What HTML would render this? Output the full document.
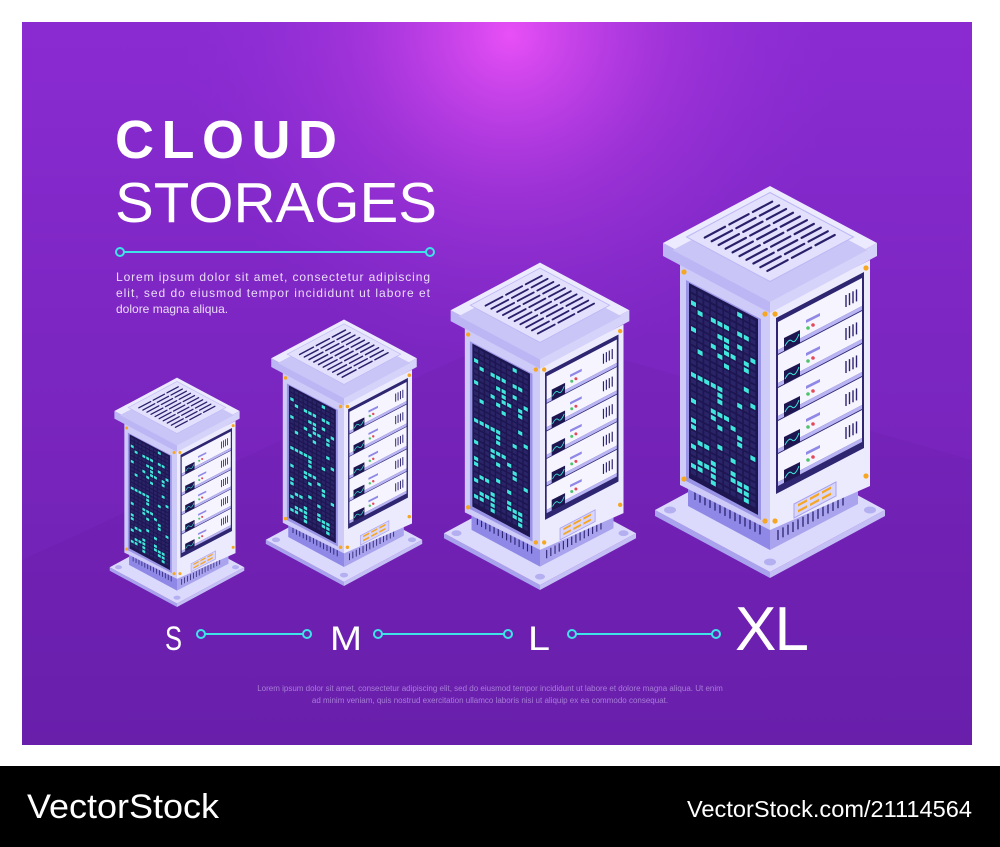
<!DOCTYPE html>
<html><head><meta charset="utf-8"><style>
html,body{margin:0;padding:0;background:#fff;width:1000px;height:847px;overflow:hidden}
svg{display:block}
</style></head><body>
<svg id="s" width="1000" height="847" viewBox="0 0 1000 847" xmlns="http://www.w3.org/2000/svg">
<defs>
<linearGradient id="bg" x1="0" y1="0" x2="0" y2="1"><stop offset="0" stop-color="#8a2bd2"/><stop offset="1" stop-color="#6b20ae"/></linearGradient>
<radialGradient id="glow" cx="510" cy="35" r="330" gradientUnits="userSpaceOnUse"><stop offset="0" stop-color="#e850f6" stop-opacity="1"/><stop offset="0.5" stop-color="#b23ae0" stop-opacity="0.5"/><stop offset="1" stop-color="#9030d8" stop-opacity="0"/></radialGradient>
</defs>
<rect x="0" y="0" width="1000" height="847" fill="#fff"/>
<rect x="22" y="22" width="950" height="723" fill="url(#bg)"/>
<rect x="22" y="22" width="950" height="723" fill="url(#glow)"/>
<polygon points="22,560 520,330 972,460 972,745 22,745" fill="#5a1a98" opacity="0.12"/>
<g id="servers"></g>
<text x="115" y="158" font-family="Liberation Sans, sans-serif" font-weight="bold" font-size="54" fill="#fff" textLength="222" lengthAdjust="spacing">CLOUD</text>
<text x="115" y="222" font-family="Liberation Sans, sans-serif" font-size="57" fill="#fff" textLength="322" lengthAdjust="spacingAndGlyphs">STORAGES</text>
<line x1="124" y1="252" x2="426" y2="252" stroke="#3ee3e8" stroke-width="2"/>
<circle cx="120" cy="252" r="4" fill="none" stroke="#3ee3e8" stroke-width="2"/>
<circle cx="430" cy="252" r="4" fill="none" stroke="#3ee3e8" stroke-width="2"/>
<g font-family="Liberation Sans, sans-serif" font-size="12" fill="#eadcf7">
<text x="116" y="281" textLength="314" lengthAdjust="spacing">Lorem ipsum dolor sit amet, consectetur adipiscing</text>
<text x="116" y="297" textLength="314" lengthAdjust="spacing">elit, sed do eiusmod tempor incididunt ut labore et</text>
<text x="116" y="313">dolore magna aliqua.</text>
</g>
<g font-family="Liberation Sans, sans-serif" fill="#fff">
<text x="165" y="650" font-size="34" textLength="17" lengthAdjust="spacingAndGlyphs">S</text>
<text x="330" y="650" font-size="34" textLength="32" lengthAdjust="spacingAndGlyphs">M</text>
<text x="528" y="650" font-size="34" textLength="22" lengthAdjust="spacingAndGlyphs">L</text>
<text x="735" y="650" font-size="62" textLength="74" lengthAdjust="spacing">XL</text>
</g>
<g stroke="#3ee3e8" stroke-width="2" fill="none">
<line x1="205" y1="634" x2="303" y2="634"/><circle cx="201" cy="634" r="4"/><circle cx="307" cy="634" r="4"/>
<line x1="382" y1="634" x2="504" y2="634"/><circle cx="378" cy="634" r="4"/><circle cx="508" cy="634" r="4"/>
<line x1="576" y1="634" x2="712" y2="634"/><circle cx="572" cy="634" r="4"/><circle cx="716" cy="634" r="4"/>
</g>
<g font-family="Liberation Sans, sans-serif" font-size="8" fill="#a77dd8" text-anchor="middle">
<text x="490" y="691">Lorem ipsum dolor sit amet, consectetur adipiscing elit, sed do eiusmod tempor incididunt ut labore et dolore magna aliqua. Ut enim</text>
<text x="490" y="703">ad minim veniam, quis nostrud exercitation ullamco laboris nisi ut aliquip ex ea commodo consequat.</text>
</g>
<rect x="0" y="766" width="1000" height="81" fill="#000"/>
<text x="27" y="818" font-family="Liberation Sans, sans-serif" font-size="34" fill="#fff" textLength="192" lengthAdjust="spacingAndGlyphs">VectorStock</text>
<text x="687" y="817" font-family="Liberation Sans, sans-serif" font-size="23" fill="#fff" textLength="285" lengthAdjust="spacingAndGlyphs">VectorStock.com/21114564</text>
</svg>
<script>
(function(){
var seed=7;function rnd(){seed=(seed*9301+49297)%233280;return seed/233280;}
function P(pts,f,extra){return '<polygon points="'+pts.map(function(p){return p[0].toFixed(1)+','+p[1].toFixed(1)}).join(' ')+'" fill="'+f+'" '+(extra||'')+'/>';}
function tmpl(){
 var s='';
 // plate
 s+=P([[-115,-68],[0,-6],[0,0],[-115,-62]],'#a9a3ee');
 s+=P([[0,-6],[115,-68],[115,-62],[0,0]],'#c4bff5');
 s+=P([[-115,-68],[0,-130],[115,-68],[0,-6]],'#dcdafc');
 [[-100,-68],[0,-16],[100,-68]].forEach(function(c){s+='<ellipse cx="'+c[0]+'" cy="'+c[1]+'" rx="6" ry="3.5" fill="#b4aff0"/>';});
 // plinth
 s+=P([[-82,-96],[0,-52],[0,-28],[-82,-72]],'#8f88e6');
 s+=P([[0,-52],[88,-98],[88,-74],[0,-28]],'#aaa4ef');
 for(var i=0;i<14;i++){var x=-75+i*5,y=-88+i*5*0.53;s+='<line x1="'+x+'" y1="'+y+'" x2="'+x+'" y2="'+(y+10)+'" stroke="#2b2270" stroke-width="1.3"/>';}
 for(var i=0;i<14;i++){var x=8+i*5,y=-48-i*5*0.53;s+='<line x1="'+x+'" y1="'+y+'" x2="'+x+'" y2="'+(y+10)+'" stroke="#2b2270" stroke-width="1.3"/>';}
 // body
 s+=P([[-90,-316],[0,-268],[0,-48],[-90,-93]],'#cfcbf8');
 s+=P([[0,-268],[100,-318],[100,-92],[0,-48]],'#ecebfe');
 // glass
 s+=P([[-84,-298],[-9,-259],[-9,-58],[-84,-97]],'#9a94e6');
 s+=P([[-81,-295],[-12,-259],[-12,-63],[-81,-100]],'#1d1650');
 for(var c=0;c<10;c++)for(var r=0;r<29;r++){
  var x=-79+c*6.6,y=-291+c*6.6*0.53+r*6.5;
  var on=rnd()<0.22;
  s+=P([[x,y],[x+5,y+2.65],[x+5,y+7.2],[x,y+4.55]],on?'#41e6dd':'#2a2468');
 }
 // right recess
 s+=P([[6,-260],[94,-306],[94,-130],[6,-84]],'#2e2670');
 for(var d=0;d<5;d++){
  var o=d*33;
  s+=P([[8,-256+o],[92,-300+o],[92,-272+o],[8,-228+o]],'#f5f4ff');
  s+=P([[8,-228+o],[92,-272+o],[92,-268+o],[8,-224+o]],'#b9b4f3');
  s+=P([[14,-240+o],[30,-248+o],[30,-235+o],[14,-227+o]],'#1d1650');
  s+='<path d="M15 '+(-232+o)+' q4 -8 7 -5 t7 -7" stroke="#41e6dd" fill="none" stroke-width="1"/>';
  s+=P([[36,-258+o],[50,-265+o],[50,-262+o],[36,-255+o]],'#8f88e6');
  s+='<circle cx="38" cy="'+(-250+o)+'" r="1.8" fill="#4fc36a"/><circle cx="43" cy="'+(-253+o)+'" r="1.8" fill="#e24a5a"/>';
  for(var k=0;k<4;k++){var x=76+k*3.5;var y=-283+o-k*3.5*0.53;s+='<line x1="'+x+'" y1="'+y+'" x2="'+x+'" y2="'+(y+12)+'" stroke="#2b2270" stroke-width="1.4"/>';}
 }
 // orange panel
 s+=P([[24,-74],[66,-96],[66,-82],[24,-60]],'#d9d6fb','stroke="#a9a3ee" stroke-width="1"');
 for(var a=0;a<3;a++)for(var b=0;b<2;b++){var x=28+a*12,y=-74-a*12*0.53+b*6;s+=P([[x,y],[x+9,y-4.8],[x+9,y-2.3],[x,y+2.5]],'#f5a623');}
 // cap
 s+=P([[-107,-335],[0,-278],[0,-265],[-107,-322]],'#bcb7f4');
 s+=P([[0,-278],[107,-335],[107,-322],[0,-265]],'#d6d3fa');
 s+=P([[-107,-335],[0,-392],[107,-335],[0,-278]],'#eceafe');
 function D(a,b,h){return [a*53.5+b*53.5,-335-a*28.5+b*28.5-(h||0)];}
 s+=P([D(-1,-0.82,0),D(0.82,-0.82,0),D(0.82,1,0),D(-1,1,0)].map(function(p){return[p[0],p[1]+2]}),'#c9c5f6');
 s+=P([D(-0.78,-0.78,6),D(0.78,-0.78,6),D(0.78,0.78,6),D(-0.78,0.78,6)],'#e2e0fd','stroke="#bdb8f4" stroke-width="1"');
 for(var b=-0.6;b<=0.61;b+=0.13){
  [[-0.62,-0.24],[-0.16,0.2],[0.28,0.64]].forEach(function(seg){var p1=D(seg[0],b,6),p2=D(seg[1],b,6);
   s+='<line x1="'+p1[0]+'" y1="'+p1[1]+'" x2="'+p2[0]+'" y2="'+p2[1]+'" stroke="#29206a" stroke-width="2.2" stroke-linecap="round"/>';});
 }
 // bolts
 [[-86,-306],[-5,-264],[5,-264],[96,-310],[-86,-99],[-5,-57],[5,-57],[96,-102]].forEach(function(c){s+='<circle cx="'+c[0]+'" cy="'+c[1]+'" r="2.6" fill="#f5a623"/>';});
 return s;
}
var t=tmpl();var g='';
[[177,607,0.585],[344,586,0.68],[540,590,0.835],[770,578,1]].forEach(function(v){g+='<g transform="translate('+v[0]+','+v[1]+') scale('+v[2]+')">'+t+'</g>';});
document.getElementById('servers').innerHTML=g;
})();
</script>
</body></html>
